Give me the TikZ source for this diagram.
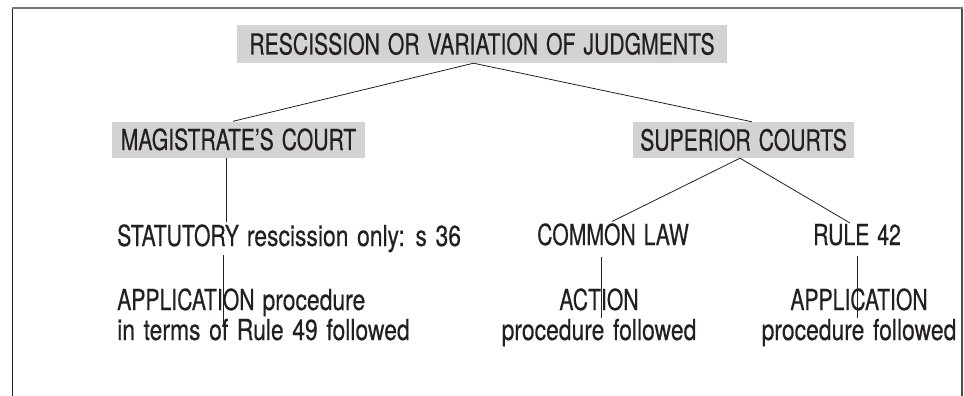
\documentclass[tikz,border=0pt]{standalone}
\usepackage{fontspec}
\setmainfont[FakeStretch=0.73, WordSpace=1.35, FakeBold=0.4]{TeX Gyre Heros}
\newfontfamily\lcfont[FakeStretch=0.79, WordSpace=1.35, FakeBold=0.4]{TeX Gyre Heros}
\definecolor{boxgrey}{RGB}{211,211,213}
\definecolor{ink}{RGB}{35,31,32}
\definecolor{framegrey}{RGB}{120,120,122}
\begin{document}
\begin{tikzpicture}[x=1pt,y=-1pt,
  font=\fontsize{29}{30}\selectfont, text=ink,
  boxnode/.style={fill=boxgrey, inner sep=0pt, text height=21pt, text depth=0pt, minimum height=36pt},
  txt/.style={inner sep=0pt, anchor=base west, align=left},
  ctxt/.style={inner sep=0pt, anchor=base, align=center},
  conn/.style={draw=ink, line width=0.8pt}]
\useasboundingbox (0,0) rectangle (964,396);
\draw[line width=1.3pt, draw=ink] (12.3,396) -- (12.3,8.3);
\draw[line width=1.3pt, draw=ink!80] (962,8.3) -- (962,396);
\draw[line width=1.6pt, draw=framegrey] (11.65,8.3) -- (962.65,8.3);

\node[boxnode, minimum width=490pt, minimum height=38pt] (title) at (482,44) {RESCISSION OR VARIATION OF JUDGMENTS};
\node[boxnode, minimum width=253pt] (mag) at (238.5,139.5) {MAGISTRATE'S COURT};
\node[boxnode, minimum width=221pt] (sup) at (743.5,140) {SUPERIOR COURTS};

\node[txt] (stat) at (117,246) {STATUTORY {\lcfont rescission only: s 36}};
\node[txt] (common) at (537,245) {COMMON LAW};
\node[txt] (rule) at (813,245) {RULE 42};
\node[txt] (app1) at (117,340) {APPLICATION {\lcfont procedure}\\{\lcfont in terms of Rule 49 followed}};
\node[ctxt] (action) at (599,340) {ACTION\\{\lcfont procedure followed}};
\node[ctxt] (app2) at (859,340) {APPLICATION\\{\lcfont procedure followed}};

\draw[conn] ([xshift=-8.5pt]title.south) -- ([xshift=-5.5pt]mag.north);
\draw[conn] ([xshift=-8.5pt]title.south) -- ([xshift=8.5pt]sup.north);
\draw[conn] ([xshift=-12.5pt]mag.south) -- ([shift={(109,-24)}]stat.base west);
\draw[conn] ([shift={(106.5,9)}]stat.base west) -- ([shift={(106.5,-13)}]app1.base west);
\draw[conn] ([xshift=-3.5pt]sup.south) -- ([shift={(75,-23.5)}]common.base west);
\draw[conn] ([xshift=-3.5pt]sup.south) -- ([shift={(37,-22)}]rule.base west);
\draw[conn] ([shift={(64,12)}]common.base west) -- ([shift={(2,-22)}]action.base);
\draw[conn] ([shift={(44,11)}]rule.base west) -- ([shift={(-2,-22)}]app2.base);
\end{tikzpicture}
\end{document}
